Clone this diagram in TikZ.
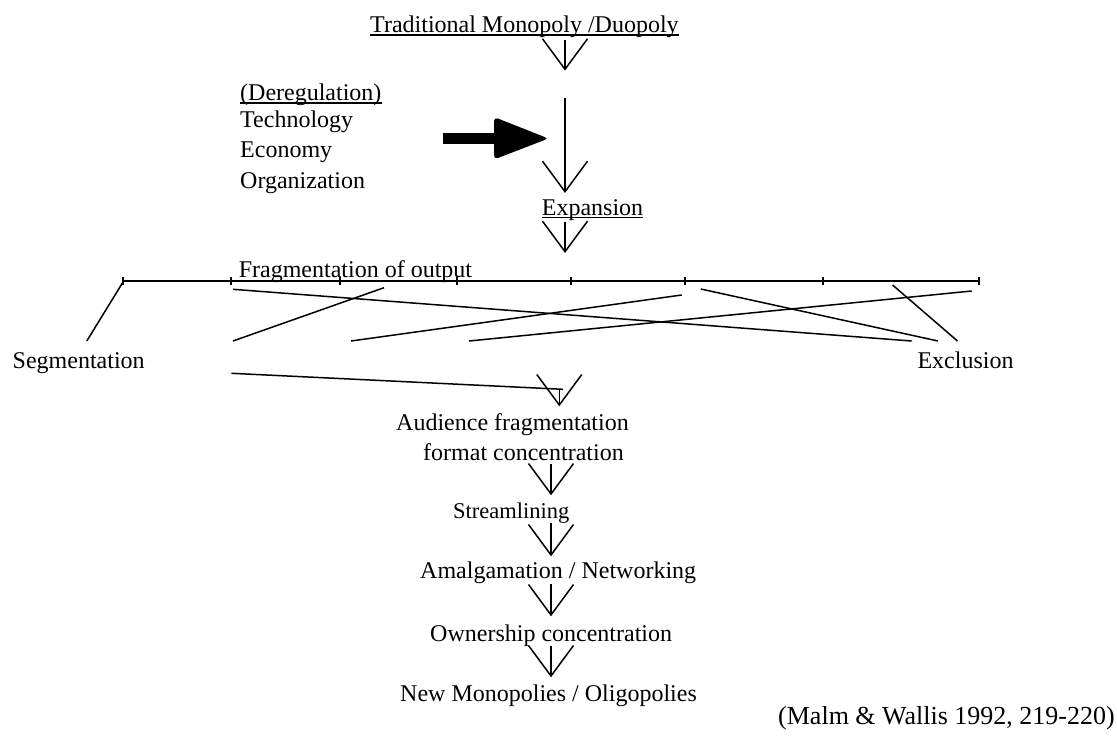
\documentclass[tikz,border=0pt]{standalone}
\usepackage{fontspec}
\setmainfont{Liberation Serif}
\newcommand\myvarrow[3]{% x, stem top, tip
  \draw[ln] (#1,#2) -- (#1,#3);
  \draw[ln,line join=miter] (#1-22.5,#3-30.5) -- (#1,#3) -- (#1+22.5,#3-30.5);}
\begin{document}
\begin{tikzpicture}[x=1pt,y=-1pt,
  txt/.style={anchor=base west,inner sep=0pt,font=\fontsize{24}{28}\selectfont},
  ln/.style={line width=1.5pt},
  ul/.style={line width=1.5pt},
  tickmark/.style={line width=1.4pt}]
\useasboundingbox (0,0) rectangle (1117,740);
% top
\node[txt] (title) at (370,32.5) {Traditional Monopoly /Duopoly};
\draw[ul] ([yshift=-2.5pt]title.base west) -- ([yshift=-2.5pt]title.base east);
\myvarrow{565}{40}{69.3}
% factors
\node[txt] (dereg) at (240,100.5) {(Deregulation)};
\draw[ul] ([yshift=-2.5pt]dereg.base west) -- ([yshift=-2.5pt]dereg.base east);
\node[txt] (tech) at (240,127) {Technology};
\node[txt] (econ) at (240,157.5) {Economy};
\node[txt] (org) at (240,188) {Organization};
% thick arrow
\fill (443,133) -- (496,133) -- (496,144) -- (443,144) -- cycle;
\fill[rounded corners=4pt] (494,117) -- (548.5,138.5) -- (494,159.5) -- cycle;
\myvarrow{565}{98.3}{191.7}
\node[txt] (exp) at (541.7,215) {Expansion};
\draw[ul] ([yshift=-2.5pt]exp.base west) -- ([yshift=-2.5pt]exp.base east);
\myvarrow{565}{221.7}{251.7}
% fragmentation
\node[txt] (frag) at (238.6,277) {Fragmentation of output};
\coordinate (hl) at (123,281);
\coordinate (hr) at (979,281);
\draw[ln] (hl) -- (hr);
\foreach \x in {123,231,340,457,571,685,823,979}
  \draw[tickmark] (\x,277) -- (\x,285);
\node[txt] (seg) at (12.5,368) {Segmentation};
\node[txt] (excl) at (917.3,368) {Exclusion};
\draw[ln] (123.2,281.7) -- (86.8,341);
\draw[ln] (233,289.3) -- (911.7,341);
\draw[ln] (233,341) -- (384,287.7);
\draw[ln] (351,341) -- (681.7,295);
\draw[ln] (469,341) -- (971.7,291);
\draw[ln] (700.8,289) -- (938,341);
\draw[ln] (892.6,285) -- (957.5,341);
\draw[ln] (231.4,373.3) -- (563,389.3);
\myvarrow{559.3}{389.3}{405}
% chain
\node[txt] (aud) at (396,430) {Audience fragmentation};
\node[txt] (fmt) at (423,460) {format concentration};
\myvarrow{551}{463.5}{494}
\node[txt,font=\fontsize{22.5}{26}\selectfont] (stream) at (453,518) {Streamlining};
\myvarrow{551}{523}{555}
\node[txt] (amal) at (420,578) {Amalgamation / Networking};
\myvarrow{551}{584}{615}
\node[txt] (own) at (430,641.7) {Ownership concentration};
\myvarrow{551}{646}{676}
\node[txt] (newm) at (400,701.7) {New Monopolies / Oligopolies};
\node[txt,anchor=base east,font=\fontsize{26}{30}\selectfont] (cite) at (1115,724) {(Malm \& Wallis 1992, 219-220)};
\end{tikzpicture}
\end{document}
